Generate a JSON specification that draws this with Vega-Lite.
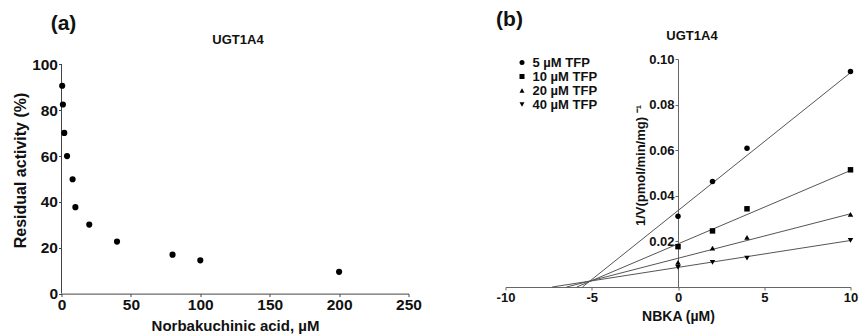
{
  "$schema": "https://vega.github.io/schema/vega-lite/v6.json",
  "background": "white",
  "padding": {"left": 12.5, "top": 9, "right": 0, "bottom": 0},
  "spacing": 74,
  "config": {
    "font": "Liberation Sans",
    "view": {"stroke": null},
    "axis": {
      "grid": false,
      "labelFlush": false,
      "labelFontWeight": "bold",
      "titleFontWeight": "bold",
      "labelColor": "#111",
      "titleColor": "#111",
      "domainColor": "#444",
      "tickColor": "#444",
      "tickSize": 3,
      "labelPadding": 1
    },
    "title": {"font": "Liberation Sans", "color": "#111"}
  },
  "datasets": {
    "inhib": [
      {"conc": 0.5, "activity": 90.7},
      {"conc": 1, "activity": 82.5},
      {"conc": 2, "activity": 70.1},
      {"conc": 4, "activity": 60.0},
      {"conc": 8, "activity": 49.9},
      {"conc": 10, "activity": 37.7},
      {"conc": 20, "activity": 30.1},
      {"conc": 40, "activity": 22.7},
      {"conc": 80, "activity": 17.0},
      {"conc": 100, "activity": 14.5},
      {"conc": 200, "activity": 9.5}
    ],
    "yaxisA": [{"x": 0, "y": 0, "y2": 100}],
    "pts": [
      {"series": "5 µM TFP", "nbka": 0, "v": 0.0310},
      {"series": "5 µM TFP", "nbka": 2, "v": 0.0463},
      {"series": "5 µM TFP", "nbka": 4, "v": 0.0609},
      {"series": "5 µM TFP", "nbka": 10, "v": 0.0945},
      {"series": "10 µM TFP", "nbka": 0, "v": 0.0177},
      {"series": "10 µM TFP", "nbka": 2, "v": 0.0246},
      {"series": "10 µM TFP", "nbka": 4, "v": 0.0343},
      {"series": "10 µM TFP", "nbka": 10, "v": 0.0514},
      {"series": "20 µM TFP", "nbka": 0, "v": 0.0108},
      {"series": "20 µM TFP", "nbka": 2, "v": 0.0171},
      {"series": "20 µM TFP", "nbka": 4, "v": 0.0218},
      {"series": "20 µM TFP", "nbka": 10, "v": 0.0319},
      {"series": "40 µM TFP", "nbka": 0, "v": 0.0086},
      {"series": "40 µM TFP", "nbka": 2, "v": 0.0108},
      {"series": "40 µM TFP", "nbka": 4, "v": 0.0127},
      {"series": "40 µM TFP", "nbka": 10, "v": 0.0204}
    ],
    "fits": [
      {"series": "5 µM TFP", "nbka": -5.54, "v": 0},
      {"series": "5 µM TFP", "nbka": 10, "v": 0.0940},
      {"series": "10 µM TFP", "nbka": -5.87, "v": 0},
      {"series": "10 µM TFP", "nbka": 10, "v": 0.0511},
      {"series": "20 µM TFP", "nbka": -6.46, "v": 0},
      {"series": "20 µM TFP", "nbka": 10, "v": 0.0321},
      {"series": "40 µM TFP", "nbka": -7.29, "v": 0},
      {"series": "40 µM TFP", "nbka": 10, "v": 0.0204}
    ]
  },
  "hconcat": [
    {
      "title": {"text": "(a)", "anchor": "start", "fontSize": 21, "fontWeight": "bold", "dx": 38, "offset": 0},
      "vconcat": [
        {
          "width": 347,
          "height": 234.6,
          "title": {"text": "UGT1A4", "fontSize": 13, "fontWeight": "bold", "offset": 10, "frame": "group", "dx": 3},
          "layer": [
            {
              "data": {"name": "yaxisA"},
              "mark": {"type": "rule", "color": "#444", "strokeWidth": 1},
              "encoding": {
                "x": {"field": "x", "type": "quantitative"},
                "y": {"field": "y", "type": "quantitative"},
                "y2": {"field": "y2"}
              }
            },
            {
              "data": {"name": "inhib"},
              "mark": {"type": "point", "filled": true, "color": "#000", "size": 38, "opacity": 1},
              "encoding": {
                "x": {"field": "conc", "type": "quantitative"},
                "y": {"field": "activity", "type": "quantitative"}
              }
            }
          ],
          "encoding": {
            "x": {
              "field": "conc", "type": "quantitative",
              "scale": {"domain": [0, 250], "nice": false},
              "axis": {"values": [0, 50, 100, 150, 200, 250], "title": "Norbakuchinic acid, µM", "labelFontSize": 15.5, "titleFontSize": 15, "titlePadding": 5}
            },
            "y": {
              "field": "activity", "type": "quantitative",
              "scale": {"domain": [0, 102.36], "nice": false, "zero": false},
              "axis": {"values": [0, 20, 40, 60, 80, 100], "domain": false, "title": "Residual activity (%)", "labelFontSize": 15.5, "titleFontSize": 16, "titlePadding": 3, "titleY": 111}
            }
          }
        }
      ]
    },
    {
      "title": {"text": "(b)", "anchor": "start", "fontSize": 21, "fontWeight": "bold", "dx": 0, "offset": 0},
      "vconcat": [
        {
          "width": 345,
          "height": 228,
          "title": {"text": "UGT1A4", "fontSize": 13, "fontWeight": "bold", "offset": 10, "dx": 14, "frame": "group"},
          "layer": [
            {
              "data": {"name": "fits"},
              "mark": {"type": "line", "color": "#555", "strokeWidth": 1},
              "encoding": {
                "x": {"field": "nbka", "type": "quantitative"},
                "y": {"field": "v", "type": "quantitative"},
                "detail": {"field": "series"}
              }
            },
            {
              "data": {"name": "pts"},
              "mark": {"type": "point", "filled": true, "color": "#000", "size": 30, "opacity": 1},
              "encoding": {
                "x": {"field": "nbka", "type": "quantitative"},
                "y": {"field": "v", "type": "quantitative"},
                "shape": {
                  "field": "series", "type": "nominal",
                  "scale": {"domain": ["5 µM TFP", "10 µM TFP", "20 µM TFP", "40 µM TFP"], "range": ["circle", "square", "triangle-up", "triangle-down"]},
                  "legend": {"title": null, "orient": "none", "legendX": 454, "legendY": -3, "labelFontSize": 13, "labelFontWeight": "bold", "labelColor": "#111", "symbolSize": 25, "symbolFillColor": "#000", "symbolStrokeColor": "#000", "rowPadding": 0, "labelOffset": 4, "padding": 0}
                }
              }
            }
          ],
          "encoding": {
            "x": {
              "field": "nbka", "type": "quantitative",
              "scale": {"domain": [-10, 10], "nice": false},
              "axis": {"values": [-10, -5, 0, 5, 10], "labelExpr": "'' + datum.value", "title": "NBKA (µM)", "labelFontSize": 13, "titleFontSize": 14, "titlePadding": 5, "domainColor": "#666", "tickColor": "#666", "tickSize": 3}
            },
            "y": {
              "field": "v", "type": "quantitative",
              "scale": {"domain": [0, 0.1], "nice": false},
              "axis": {"values": [0.02, 0.04, 0.06, 0.08, 0.1], "format": ".2f", "offset": -172.5, "title": "1/V(pmol/min/mg) ⁻¹", "labelFontSize": 13, "titleFontSize": 13, "titlePadding": 1, "titleY": 106, "domainColor": "#666", "tickColor": "#666", "tickSize": 3}
            }
          }
        }
      ]
    }
  ]
}
